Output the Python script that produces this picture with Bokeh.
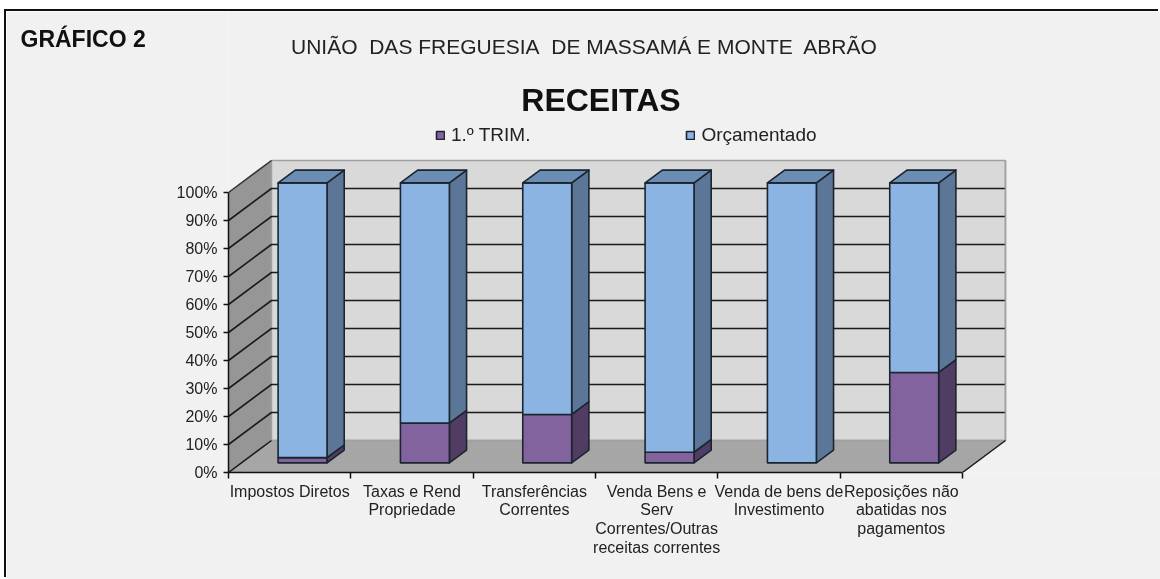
from bokeh.plotting import figure
from bokeh.models import Range1d, LinearAxis, FixedTicker, Label, Legend, LegendItem
from bokeh.embed import file_html
from bokeh.resources import INLINE

categories = ["Impostos Diretos", "Taxas e Rend\nPropriedade", "Transferências\nCorrentes",
              "Venda Bens e\nServ\nCorrentes/Outras\nreceitas correntes",
              "Venda de bens de\nInvestimento", "Reposições não\nabatidas nos\npagamentos"]
trim1 = [1.9, 14.2, 17.3, 3.8, 0.0, 32.3]
orcamentado = [98.1, 85.8, 82.7, 96.2, 100.0, 67.7]
y_ticks = [0, 10, 20, 30, 40, 50, 60, 70, 80, 90, 100]
y_labels = ["0%", "10%", "20%", "30%", "40%", "50%", "60%", "70%", "80%", "90%", "100%"]

OX, OY = 6, 11            # where the panel starts on the page
W, H = 1160 - OX, 579 - OY
FONT = "Liberation Sans"
LINE = "#1b2530"
PANEL = "#f1f1f1"
PUR, PUR_S = "#82639d", "#513d63"
BLU, BLU_S, BLU_T = "#8cb4e2", "#5b7696", "#6b8cb3"

# Oblique projection, in data units: depth 1 shifts a point by DX categories, DY percent.
XU, YU = 122.33, 2.8
DX, DY = 43 / XU, 32 / YU
L, B = 228 - OX, 472 - OY
BAR_W, D0, D1 = 0.40, 0.30, 0.70

p = figure(width=W, height=H, output_backend="svg", toolbar_location=None,
           x_range=Range1d(0, (W - L) / XU), y_range=Range1d(0, B / YU),
           x_axis_type=None, y_axis_type=None,
           frame_width=W - L, frame_height=B,
           min_border_left=L, min_border_right=0, min_border_top=0, min_border_bottom=H - B,
           border_fill_color=PANEL, background_fill_color=PANEL, outline_line_color=None)
p.grid.visible = False
p.styles = {"position": "fixed", "left": f"{OX}px", "top": f"{OY}px", "box-shadow": "-2px -2px 0 #111111"}

n = len(categories)
# walls and floor
p.patch([0, DX, DX, 0], [0, DY, 100 + DY, 100], fill_color="#969696", line_color="#8c8c8c", line_width=1)
p.patch([DX, n + DX, n + DX, DX], [DY, DY, 100 + DY, 100 + DY], fill_color="#d9d9d9", line_color="#a0a0a0", line_width=1.5)
p.patch([0, n, n + DX, DX], [0, 0, DY, DY], fill_color="#a6a6a6", line_color=None)
# gridlines
for t in y_ticks[1:-1]:
    p.line([0, DX, n + DX], [t, t + DY, t + DY], line_color="#1a1a1a", line_width=1.6)
p.line([0, DX], [100, 100 + DY], line_color="#333333", line_width=1.5)
p.line([DX, n + DX, n + DX], [DY, DY, DY + 100], line_color="#a0a0a0", line_width=1.5)
p.line([0, DX], [0, DY], line_color="#1a1a1a", line_width=1.5)
p.line([n, n + DX], [0, DY], line_color="#1a1a1a", line_width=1.5)

# bars
items = {}
for i in range(n):
    x0 = i + 0.5 - BAR_W / 2 + D0 * DX
    x1 = x0 + BAR_W
    off = D0 * DY
    dx, dy = (D1 - D0) * DX, (D1 - D0) * DY
    stacks = [(0, trim1[i], PUR, PUR_S, "1.º TRIM."), (trim1[i], trim1[i] + orcamentado[i], BLU, BLU_S, "Orçamentado")]
    for lo, hi, fc, sc, name in stacks:
        if hi <= lo:
            continue
        p.patch([x1, x1 + dx, x1 + dx, x1], [lo + off, lo + off + dy, hi + off + dy, hi + off],
                fill_color=sc, line_color=LINE, line_width=1.6, line_join="round")
        r = p.quad(left=x0, right=x1, bottom=lo + off, top=hi + off, fill_color=fc, line_color=LINE, line_width=1.6)
        items.setdefault(name, r)
    top = trim1[i] + orcamentado[i] + off
    p.patch([x0, x1, x1 + dx, x0 + dx], [top, top, top + dy, top + dy],
            fill_color=BLU_T, line_color=LINE, line_width=1.6, line_join="round")

# axes
left = LinearAxis(ticker=FixedTicker(ticks=y_ticks), major_label_overrides=dict(zip(y_ticks, y_labels)),
                  bounds=(0, 100), major_tick_in=0, major_tick_out=5, minor_tick_in=0, minor_tick_out=0,
                  axis_line_color="#111111", axis_line_width=1.5, major_tick_line_color="#111111",
                  major_tick_line_width=1.5, major_label_standoff=6,
                  major_label_text_font=FONT, major_label_text_font_size="16px", major_label_text_color="#222222")
p.add_layout(left, "left")
centres = [i + 0.5 for i in range(n)]
bottom = LinearAxis(ticker=FixedTicker(ticks=centres, minor_ticks=list(range(n + 1))),
                    major_label_overrides=dict(zip(centres, categories)),
                    bounds=(0, n), major_tick_in=0, major_tick_out=0, minor_tick_in=0, minor_tick_out=6,
                    axis_line_color="#111111", axis_line_width=1.5, minor_tick_line_color="#111111",
                    minor_tick_line_width=1.5, major_label_standoff=4,
                    major_label_text_font=FONT, major_label_text_font_size="16px", major_label_text_color="#222222",
                    major_label_text_line_height=1.1,
                    major_label_orientation="horizontal")
p.add_layout(bottom, "below")

# legend
legend = Legend(items=[LegendItem(label=k, renderers=[v]) for k, v in items.items()],
                orientation="horizontal", location=(207, 326), padding=0, margin=0, spacing=155,
                glyph_width=10, glyph_height=10, label_standoff=6, border_line_color=None,
                background_fill_color=None, label_text_font=FONT, label_text_font_size="19px",
                label_text_color="#222222")
p.add_layout(legend, "center")

def text(s, x, y, size, bold=False, align="left"):
    # x, y are page pixels of the text's anchor, converted to the chart's own data units
    p.add_layout(Label(x=(x - OX - L) / XU, y=(B - (y - OY)) / YU, text=s, text_font=FONT,
                       text_font_size=size, text_color="#111111" if bold else "#222222",
                       text_font_style="bold" if bold else "normal", text_align=align, text_baseline="alphabetic"))

text("UNIÃO\u00a0 DAS FREGUESIA\u00a0 DE MASSAMÁ E MONTE\u00a0 ABRÃO", 584, 45.5, "21px", align="center")
text("RECEITAS", 600.5, 99.5, "32px", bold=True, align="center")

p.add_layout(Label(x=-28, y=B - 27, x_units="screen", y_units="screen", text="GRÁFICO 2", text_font=FONT,
                   text_font_size="23px", text_color="#111111", text_font_style="bold",
                   text_align="left", text_baseline="alphabetic"), "left")

open("out.html", "w").write(file_html(p, INLINE))
